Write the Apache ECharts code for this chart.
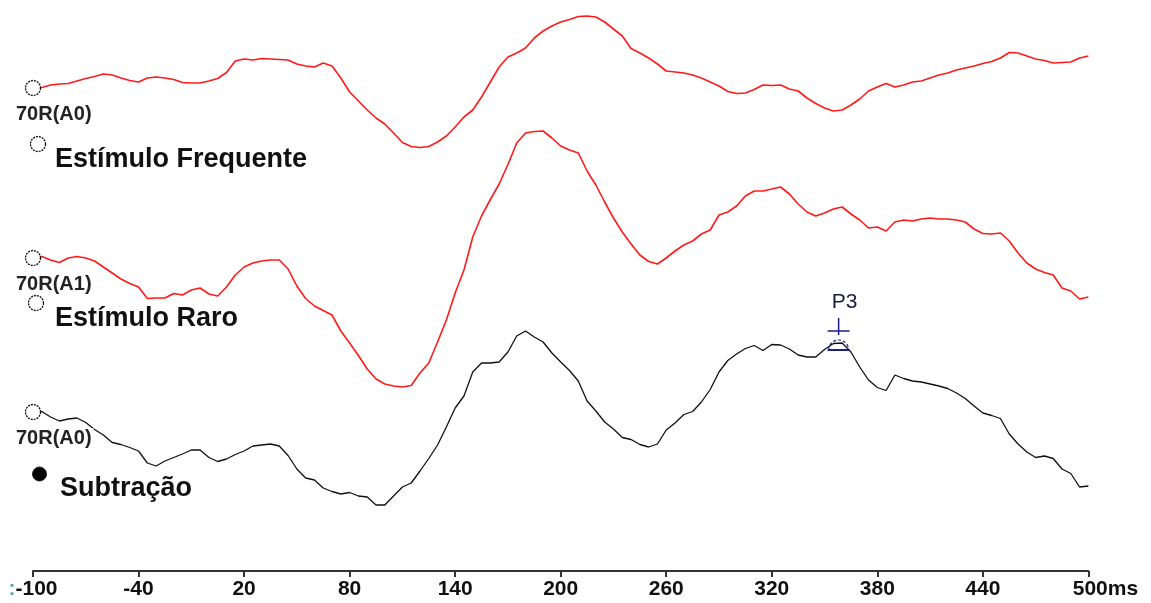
<!DOCTYPE html>
<html>
<head>
<meta charset="utf-8">
<script src="https://cdn.jsdelivr.net/npm/echarts@6/dist/echarts.min.js"></script>
<style>
html,body{margin:0;padding:0;background:#fff;}
#chart{width:1151px;height:603px;}
</style>
</head>
<body>
<div id="chart"></div>
<script>
// Time axis (ms)
const timesMs = [-100,-95,-90,-85,-80,-75,-70,-65,-60,-55,-50,-45,-40,-35,-30,-25,-20,-15,-10,-5,
0,5,10,15,20,25,30,35,40,45,50,55,60,65,70,75,80,85,90,95,
100,105,110,115,120,125,130,135,140,145,150,155,160,165,170,175,180,185,190,195,
200,205,210,215,220,225,230,235,240,245,250,255,260,265,270,275,280,285,290,295,
300,305,310,315,320,325,330,335,340,345,350,355,360,365,370,375,380,385,390,395,
400,405,410,415,420,425,430,435,440,445,450,455,460,465,470,475,480,485,490,495,500];

// Display level of each trace (arbitrary units, measured downward from the top of the plot)
const frequente = [88,87.5,85,84,83.5,81,78.5,76.5,74,75,78,80.5,82,78,77,78,79.5,82.5,83,83,
81,78.5,72.5,61,59,60,58.5,59,59.5,60,64,66,67,63,66,78,92,101,110,118,
124,133,142.5,146.5,147.5,146.5,142,136,127,117,110,97,82,67,57,53,48,38,31,26,
22,19.5,16.5,16,17,22,29,36,48.5,53,58,64,71,72,73,75,78,82,86,91.5,
93.5,93,89.5,85,85.5,85,89,91,98,103.5,108,111,110,105,99,91,87,83.5,87,85,
82,81,78,75,73,70,68,66,63.5,61.5,58,52.5,53,56,59,60.5,63,62.5,62,58,56];

const raro = [258,256.5,260,262.5,258,256.5,258,261,267,273,279,283.5,287,298.5,298,298,293.5,295,290,288,
294,296,287,275,267,263,261,260,260,269,286,298.5,306,310.5,315,331,343,355.5,369,379,
384,386,387,385.5,373,363,342,320,293,270,237,216,199.5,184,164.5,143,133,131.5,131,138,
146,150,153,171,185,202,218,232,244,255,261.5,264,258,251,245,241,234,230,215,212,
206,196,191,191,189,187,194,204,212,216,213,209,207,214,220,228,227,231,222,220,
221,219,218,219,219,220,222,229,233.5,234,233,241,253,263,269,272.5,275,288,291,299,297];

const subtracao = [412,411.5,417,421,419,418,422.5,429.5,435,442.5,444.5,447.5,451,463,466,461,457.5,454,450,450,
457.5,461.5,459,454.5,451,446,445,444,446,455.5,469,478,480,488,491.5,494,492.5,496,497,505,
505,496,487,483,471,458.5,445,427,408,396,372,363,363,362,352,336,331,337,342,353,
362,370.5,381,401,411,422,429,437.5,439.5,444.5,447,444,430,423,414.5,411.5,402,389.5,372,360.5,
354,348.5,345.5,350.5,344.5,345,349,355,357,357,349.5,343.5,343,352,367,380,387.5,390.5,375,378.5,
381,382,384,386,388.5,393,398.5,406,413,415.5,418.5,434,444,452,457.5,456,458.5,469,473.5,487,486];

// X tick labels (one per 60 ms tick, starting at -100)
const tickValues = [-100,-40,20,80,140,200,260,320,380,440,500];
const tickLabels = [':-100','-40','20','80','140','200','260','320','380','440','500ms'];

// Peak marker P3 (latency ms, display level)
const p3Mark = [358, 350];

const pairs = arr => arr.map((v, i) => [timesMs[i], v]);

const startMarker = (arr) => ({
  symbol: 'circle', symbolSize: 15, silent: true,
  data: [{ coord: [timesMs[0], arr[0]] }],
  itemStyle: { color: '#fff', borderColor: '#111', borderWidth: 1.3, borderType: [2, 1] },
  label: { show: false }
});

const chart = echarts.init(document.getElementById('chart'));
const FONT = '"Liberation Sans", Arial, sans-serif';

chart.setOption({
  animation: false,
  backgroundColor: '#fff',
  grid: { left: 33, right: 62.6, top: 0, bottom: 32 },
  xAxis: {
    type: 'value', min: -100, max: 500, interval: 60, position: 'bottom',
    axisLine: { show: true, onZero: false, lineStyle: { color: '#333', width: 2 } },
    axisTick: { show: true, length: 6, lineStyle: { color: '#333', width: 2 } },
    splitLine: { show: false },
    axisLabel: {
      margin: 8, color: '#111', fontFamily: FONT, fontWeight: 'bold', fontSize: 21,
      formatter: v => {
        const i = tickValues.indexOf(v);
        if (i < 0) return '';
        if (i === tickLabels.length - 1) return '{last|' + tickLabels[i] + '}';
        if (i === 0) return '{c|' + tickLabels[i].charAt(0) + '}' + tickLabels[i].slice(1);
        return tickLabels[i];
      },
      rich: {
        last: { padding: [0, 0, 0, 34], color: '#111', fontFamily: FONT, fontWeight: 'bold', fontSize: 21 },
        c: { color: '#5aa', fontFamily: FONT, fontWeight: 'bold', fontSize: 21 }
      }
    }
  },
  yAxis: { type: 'value', min: 0, max: 571, inverse: true, show: false },
  series: [
    { name: 'Estímulo Frequente', type: 'line', data: pairs(frequente), showSymbol: false,
      lineStyle: { color: '#ff1a1a', width: 1.6 }, markPoint: startMarker(frequente) },
    { name: 'Estímulo Raro', type: 'line', data: pairs(raro), showSymbol: false,
      lineStyle: { color: '#ff1a1a', width: 1.6 }, markPoint: startMarker(raro) },
    { name: 'Subtração', type: 'line', data: pairs(subtracao), showSymbol: false,
      lineStyle: { color: '#111', width: 1.3 }, markPoint: startMarker(subtracao) },
    { name: 'P3', type: 'custom', data: [p3Mark], clip: false, z: 5,
      renderItem: (params, api) => {
        const p = api.coord([api.value(0), api.value(1)]);
        const blue = '#1c1c8c';
        return { type: 'group', children: [
          { type: 'text', style: { text: 'P3', x: p[0] + 6, y: p[1] - 48, align: 'center', verticalAlign: 'middle',
              textAlign: 'center', textVerticalAlign: 'middle', font: '21px ' + FONT, fill: '#1a1a40' } },
          { type: 'line', shape: { x1: p[0], y1: p[1] - 32, x2: p[0], y2: p[1] - 15 }, style: { stroke: blue, lineWidth: 1.5 } },
          { type: 'line', shape: { x1: p[0] - 11, y1: p[1] - 19, x2: p[0] + 11, y2: p[1] - 19 }, style: { stroke: blue, lineWidth: 1.5 } },
          { type: 'arc', shape: { cx: p[0], cy: p[1], r: 10, startAngle: Math.PI, endAngle: 2 * Math.PI, clockwise: true },
            style: { stroke: blue, fill: null, lineWidth: 1.2, lineDash: [3, 2] } },
          { type: 'line', shape: { x1: p[0] - 11, y1: p[1], x2: p[0] + 11, y2: p[1] }, style: { stroke: blue, lineWidth: 2 } }
        ] };
      }
    }
  ],
  graphic: [
    { type: 'text', z: 100, x: 16, y: 114, style: { text: '70R(A0)', font: 'bold 20px ' + FONT, fill: '#222', verticalAlign: 'middle', textVerticalAlign: 'middle' } },
    { type: 'text', z: 100, x: 16, y: 284, style: { text: '70R(A1)', font: 'bold 20px ' + FONT, fill: '#222', verticalAlign: 'middle', textVerticalAlign: 'middle' } },
    { type: 'text', z: 100, x: 16, y: 438, style: { text: '70R(A0)', font: 'bold 20px ' + FONT, fill: '#222', verticalAlign: 'middle', textVerticalAlign: 'middle', backgroundColor: '#fff', padding: [0, 2, 0, 0] } },
    { type: 'text', z: 100, x: 55, y: 160, style: { text: 'Estímulo Frequente', font: 'bold 27px ' + FONT, fill: '#111', verticalAlign: 'middle', textVerticalAlign: 'middle' } },
    { type: 'text', z: 100, x: 55, y: 319, style: { text: 'Estímulo Raro', font: 'bold 27px ' + FONT, fill: '#111', verticalAlign: 'middle', textVerticalAlign: 'middle' } },
    { type: 'text', z: 100, x: 60, y: 489, style: { text: 'Subtração', font: 'bold 27px ' + FONT, fill: '#111', verticalAlign: 'middle', textVerticalAlign: 'middle' } },
    { type: 'circle', z: 100, shape: { cx: 38, cy: 144, r: 7.5 }, style: { fill: '#fff', stroke: '#111', lineWidth: 1.3, lineDash: [2, 1] } },
    { type: 'circle', z: 100, shape: { cx: 36, cy: 303, r: 7.5 }, style: { fill: '#fff', stroke: '#111', lineWidth: 1.3, lineDash: [2, 1] } },
    { type: 'circle', z: 100, shape: { cx: 39.5, cy: 474, r: 7 }, style: { fill: '#000', stroke: '#222', lineWidth: 1 } }
  ]
});
</script>
</body>
</html>
